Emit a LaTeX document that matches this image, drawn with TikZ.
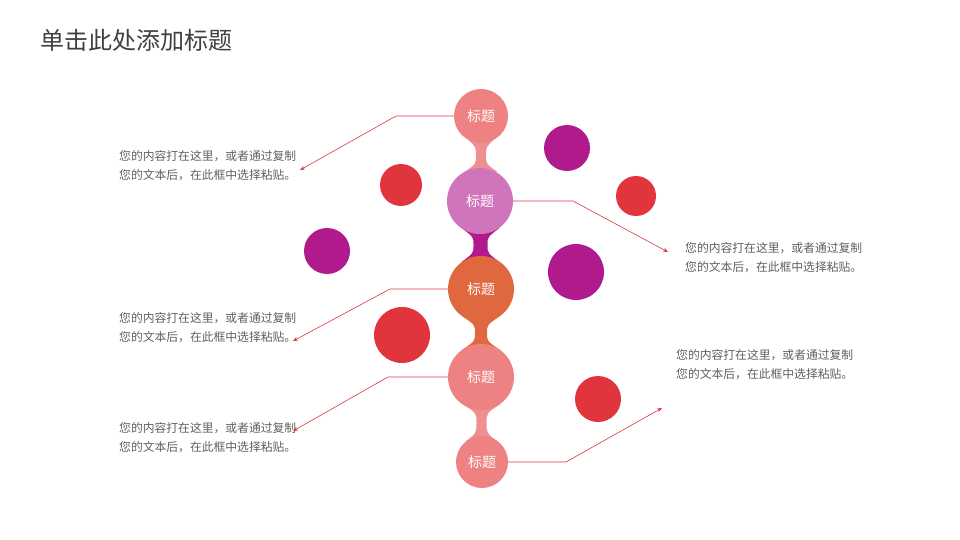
\documentclass[tikz,border=0pt]{standalone}
\usepackage{fontspec}
\setmainfont{Noto Sans CJK SC}
\usetikzlibrary{arrows.meta}
\definecolor{pk}{HTML}{EE8282}
\definecolor{orch}{HTML}{D074BC}
\definecolor{org}{HTML}{E0683F}
\definecolor{pur}{HTML}{B01A8C}
\definecolor{rd}{HTML}{E0353D}
\definecolor{ln}{HTML}{D9363E}
\definecolor{tx}{HTML}{606060}
\newcommand\myneck[8]{\fill[#8] ({#1-#3},#2) .. controls ({#1-#6},{#2+#7}) .. ({#1-#6},{(#2+#4)/2}) .. controls ({#1-#6},{#4-#7}) .. ({#1-#5},#4) -- ({#1+#5},#4) .. controls ({#1+#6},{#4-#7}) .. ({#1+#6},{(#2+#4)/2}) .. controls ({#1+#6},{#2+#7}) .. ({#1+#3},#2) -- cycle;}
\begin{document}
\begin{tikzpicture}[x=1pt,y=-1pt,
  big/.style={circle,inner sep=0pt,text=white,font=\fontsize{14}{16}\selectfont},
  deco/.style={circle,inner sep=0pt},
  conn/.style={draw=ln,line width=0.6pt,-{Stealth[length=5pt,width=4pt]}},
  desc/.style={text=tx,font=\fontsize{11.8}{19}\selectfont,align=left,anchor=north west,inner sep=0pt}]
\useasboundingbox (0,0) rectangle (960,540);
\node[anchor=west,text=black!75,font=\fontsize{24}{26}\selectfont,inner sep=0pt] (title) at (40,40) {单击此处添加标题};
% necks
\myneck{481}{139}{13.5}{172}{16.5}{5}{8}{pk!90}
\myneck{480.5}{228}{19}{262}{19}{7}{9}{pur}
\myneck{481}{316}{19}{350}{19}{6}{9}{org}
\myneck{481.5}{404}{19}{442}{16.6}{5}{9}{pk!90}
% main circles
\node[big,fill=pk,minimum size=54pt] (c1) at (481,116) {标题};
\node[big,fill=orch,minimum size=66pt] (c2) at (480,201) {标题};
\node[big,fill=org,minimum size=66pt] (c3) at (481,289) {标题};
\node[big,fill=pk,minimum size=66pt] (c4) at (481,377) {标题};
\node[big,fill=pk,minimum size=52pt] (c5) at (482,462) {标题};
% decorative
\node[deco,fill=pur,minimum size=46pt] (d1) at (567,148) {};
\node[deco,fill=rd,minimum size=42pt] (d2) at (401,185) {};
\node[deco,fill=rd,minimum size=40pt] (d3) at (636,196) {};
\node[deco,fill=pur,minimum size=46pt] (d4) at (327,251) {};
\node[deco,fill=pur,minimum size=56pt] (d5) at (576,272) {};
\node[deco,fill=rd,minimum size=56pt] (d6) at (402,335) {};
\node[deco,fill=rd,minimum size=46pt] (d7) at (598,399) {};
% text
\node[desc] (t1) at (119,150) {您的内容打在这里，或者通过复制\\您的文本后，在此框中选择粘贴。};
\node[desc] (t2) at (685,242) {您的内容打在这里，或者通过复制\\您的文本后，在此框中选择粘贴。};
\node[desc] (t3) at (119,312) {您的内容打在这里，或者通过复制\\您的文本后，在此框中选择粘贴。};
\node[desc] (t4) at (119,422) {您的内容打在这里，或者通过复制\\您的文本后，在此框中选择粘贴。};
\node[desc] (t5) at (676,349) {您的内容打在这里，或者通过复制\\您的文本后，在此框中选择粘贴。};
% connectors
\coordinate (e1) at (300,170); \coordinate (e2) at (668,252);
\coordinate (e3) at (293,341); \coordinate (e4) at (293,431);
\coordinate (e5) at (662,408);
\draw[conn] (c1.west) -- (396,116) -- (e1);
\draw[conn] (c2.east) -- (573,201) -- (e2);
\draw[conn] (c3.west) -- (390,289) -- (e3);
\draw[conn] (c4.west) -- (388,377) -- (e4);
\draw[conn] (c5.east) -- (566,462) -- (e5);
\end{tikzpicture}
\end{document}
